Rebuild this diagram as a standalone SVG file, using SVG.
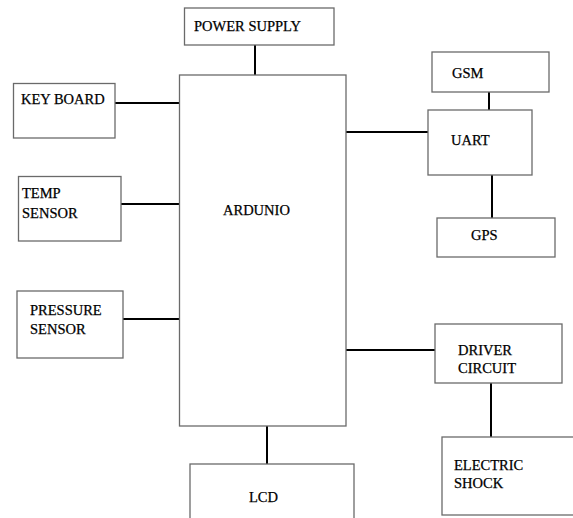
<svg xmlns="http://www.w3.org/2000/svg" width="573" height="518" viewBox="0 0 573 518">
<style>
.box{fill:#fff;stroke:#6a6a6a;stroke-width:1.3}
.lbl{font-family:"Liberation Serif","Times New Roman",serif;font-size:14.5px;fill:#000;stroke:#000;stroke-width:0.25}
.conn line{stroke:#000;stroke-width:2}
</style>
<rect width="573" height="518" fill="#fff"/>
<g class="conn">
<line x1="255" y1="45" x2="255" y2="75"/>
<line x1="115" y1="103" x2="180" y2="103"/>
<line x1="121" y1="204" x2="180" y2="204"/>
<line x1="123" y1="319" x2="180" y2="319"/>
<line x1="267" y1="426" x2="267" y2="464"/>
<line x1="346" y1="132" x2="428" y2="132"/>
<line x1="489" y1="92" x2="489" y2="110"/>
<line x1="492" y1="175" x2="492" y2="218"/>
<line x1="346" y1="350" x2="435" y2="350"/>
<line x1="491" y1="383" x2="491" y2="437"/>
</g>
<g id="power"><rect class="box" x="184.5" y="8" width="149.5" height="37"/><text class="lbl" x="194" y="31">POWER SUPPLY</text></g>
<g id="arduino"><rect class="box" x="179.5" y="75" width="166.5" height="351"/><text class="lbl" x="223" y="215">ARDUNIO</text></g>
<g id="keyboard"><rect class="box" x="13.5" y="83.5" width="101.5" height="54.5"/><text class="lbl" x="21" y="104">KEY BOARD</text></g>
<g id="temp"><rect class="box" x="18.5" y="176.5" width="102.5" height="64.5"/><text class="lbl" x="22" y="198">TEMP</text><text class="lbl" x="22" y="218">SENSOR</text></g>
<g id="pressure"><rect class="box" x="17" y="291" width="106" height="67"/><text class="lbl" x="30" y="315">PRESSURE</text><text class="lbl" x="30" y="334">SENSOR</text></g>
<g id="lcd"><rect class="box" x="190" y="464" width="164" height="60"/><text class="lbl" x="249" y="502">LCD</text></g>
<g id="gsm"><rect class="box" x="432" y="52" width="117" height="40"/><text class="lbl" x="452" y="78">GSM</text></g>
<g id="uart"><rect class="box" x="428" y="110" width="104" height="65"/><text class="lbl" x="451" y="145">UART</text></g>
<g id="gps"><rect class="box" x="437" y="218" width="118" height="39"/><text class="lbl" x="471" y="240">GPS</text></g>
<g id="driver"><rect class="box" x="435" y="324" width="127" height="59"/><text class="lbl" x="458" y="355">DRIVER</text><text class="lbl" x="458" y="373">CIRCUIT</text></g>
<g id="shock"><rect class="box" x="442" y="437" width="140" height="78"/><text class="lbl" x="454" y="470">ELECTRIC</text><text class="lbl" x="454" y="488">SHOCK</text></g>
</svg>
